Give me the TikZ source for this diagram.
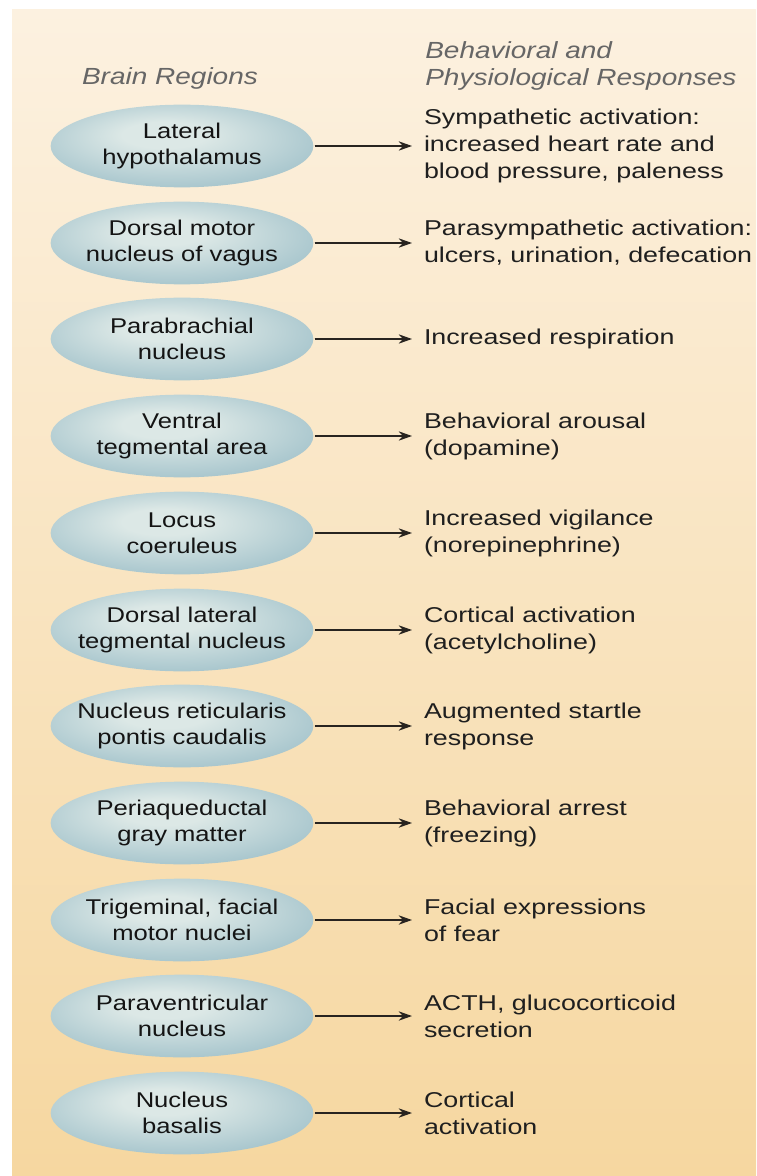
\documentclass[tikz,border=0pt]{standalone}
\usepackage{fontspec}
\setmainfont[FakeStretch=1.25]{Liberation Sans}
\newfontfamily\regionfont[FakeStretch=1.2]{Liberation Sans}
\usepackage{xcolor}
\usepackage{tikz}
\usetikzlibrary{shapes,arrows.meta,positioning}
\definecolor{panelcream}{RGB}{252,241,224}
\definecolor{panelsand}{RGB}{246,215,160}
\definecolor{regionteal}{RGB}{136,177,190}
\definecolor{regionlight}{RGB}{220,232,230}
\definecolor{arrowgray}{RGB}{40,36,32}
\pgfdeclareradialshading{regionglow}{\pgfpoint{-4bp}{8bp}}{color(0bp)=(regionlight); color(8bp)=(regionlight); color(42bp)=(regionteal); color(50bp)=(regionteal)}

\begin{document}
\begin{tikzpicture}[x=0.75pt, y=-0.75pt, >={Stealth[length=10pt,width=7pt]},
    region/.style={ellipse, minimum width=197pt, minimum height=62pt, inner xsep=-30pt, inner ysep=0pt, outer sep=1pt,
        shading=regionglow, align=center,
        font=\regionfont\fontsize{16}{19.5}\selectfont, text=black!92},
    response/.style={anchor=west, inner sep=0pt, outer sep=9pt, align=left,
        font=\fontsize{16.1}{20.2}\selectfont, text=black!88},
    heading/.style={font=\regionfont\fontsize{17.5}{20.5}\selectfont\itshape, text=black!60, align=left},
    link/.style={->, line width=1.2pt, draw=arrowgray, fill=arrowgray}]
        \useasboundingbox (0,0) rectangle (756,1176);
        % Background panel
        \shade[top color=panelcream, bottom color=panelsand] (12,10) rectangle (756,1176);

        % Column headings
        \node[heading] (hregion) at (170,78) {Brain Regions};
        \node[heading, anchor=west, inner sep=0pt] (hresp) at (425,66) {Behavioral and\\Physiological Responses};

        % Brain regions
        \node[region] (lh) at (182,146) {Lateral\\hypothalamus};
        \node[region] (dmv) at (182,243) {Dorsal motor\\nucleus of vagus};
        \node[region] (pb) at (182,339) {Parabrachial\\nucleus};
        \node[region] (vta) at (182,436) {Ventral\\tegmental area};
        \node[region] (lc) at (182,533) {Locus\\coeruleus};
        \node[region] (ldt) at (182,630) {Dorsal lateral\\tegmental nucleus};
        \node[region] (rpc) at (182,726) {Nucleus reticularis\\pontis caudalis};
        \node[region] (pag) at (182,823) {Periaqueductal\\gray matter};
        \node[region] (trig) at (182,920) {Trigeminal, facial\\motor nuclei};
        \node[region] (pvn) at (182,1016) {Paraventricular\\nucleus};
        \node[region] (nb) at (182,1113) {Nucleus\\basalis};

        % Responses
        \node[response] (lh-r) at (412,146) {Sympathetic activation:\\increased heart rate and\\blood pressure, paleness};
        \node[response] (dmv-r) at (412,243) {Parasympathetic activation:\\ulcers, urination, defecation};
        \node[response] (pb-r) at (412,339) {Increased respiration};
        \node[response] (vta-r) at (412,436) {Behavioral arousal\\(dopamine)};
        \node[response] (lc-r) at (412,533) {Increased vigilance\\(norepinephrine)};
        \node[response] (ldt-r) at (412,630) {Cortical activation\\(acetylcholine)};
        \node[response] (rpc-r) at (412,726) {Augmented startle\\response};
        \node[response] (pag-r) at (412,823) {Behavioral arrest\\(freezing)};
        \node[response] (trig-r) at (412,920) {Facial expressions\\of fear};
        \node[response] (pvn-r) at (412,1016) {ACTH, glucocorticoid\\secretion};
        \node[response] (nb-r) at (412,1113) {Cortical\\activation};

        % Arrows
        \draw[link] (lh) -- (lh-r);
        \draw[link] (dmv) -- (dmv-r);
        \draw[link] (pb) -- (pb-r);
        \draw[link] (vta) -- (vta-r);
        \draw[link] (lc) -- (lc-r);
        \draw[link] (ldt) -- (ldt-r);
        \draw[link] (rpc) -- (rpc-r);
        \draw[link] (pag) -- (pag-r);
        \draw[link] (trig) -- (trig-r);
        \draw[link] (pvn) -- (pvn-r);
        \draw[link] (nb) -- (nb-r);
    \end{tikzpicture}
\end{document}
